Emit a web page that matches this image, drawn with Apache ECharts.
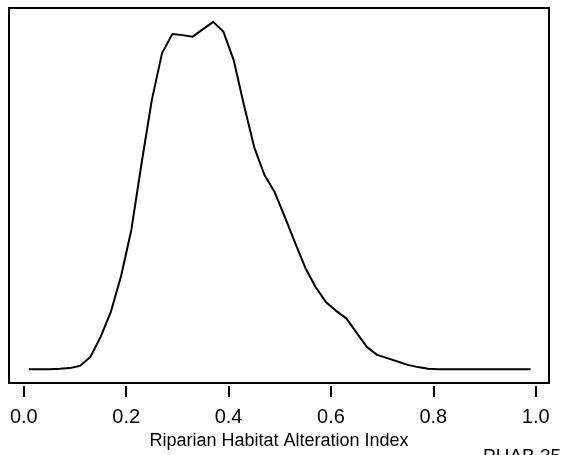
<!DOCTYPE html>
<html>
<head>
<meta charset="utf-8">
<script src="https://cdn.jsdelivr.net/npm/echarts@6/dist/echarts.min.js"></script>
<style>
html,body{margin:0;padding:0;background:#fff;}
#chart{width:562px;height:455px;}
</style>
</head>
<body>
<div id="chart"></div>
<script>
// Kernel density of Riparian Habitat Alteration Index (evaluated on grid 0.01..0.99)
const xValues = [0.01,0.03,0.05,0.07,0.09,0.11,0.13,0.15,0.17,0.19,
                 0.21,0.23,0.25,0.27,0.29,0.31,0.33,0.35,0.37,0.39,
                 0.41,0.43,0.45,0.47,0.49,0.51,0.53,0.55,0.57,0.59,
                 0.61,0.63,0.65,0.67,0.69,0.71,0.73,0.75,0.77,0.79,
                 0.81,0.83,0.85,0.87,0.89,0.91,0.93,0.95,0.97,0.99];
const density = [0,0,0,0.003,0.010,0.033,0.121,0.319,0.566,0.921,
                 1.375,2.034,2.658,3.122,3.310,3.300,3.285,3.359,3.431,3.333,
                 3.053,2.609,2.194,1.918,1.750,1.503,1.247,1.000,0.812,0.664,
                 0.576,0.501,0.361,0.220,0.141,0.109,0.075,0.042,0.020,0.003,
                 0,0,0,0,0,0,0,0,0,0];
const xTicks = [0.0,0.2,0.4,0.6,0.8,1.0];
const xTitle = 'Riparian Habitat Alteration Index';
const cornerLabel = 'PHAB 35';

const chart = echarts.init(document.getElementById('chart'), null, {renderer:'canvas'});
const FONT = '"Liberation Sans", Arial, Helvetica, sans-serif';
chart.setOption({
  animation:false,
  backgroundColor:'#fff',
  grid:{left:9, top:8, width:540, height:375, show:true, borderColor:'#000', borderWidth:2, backgroundColor:'transparent'},
  xAxis:{
    type:'value', position:'bottom', min:-0.029, max:1.026, offset:3,
    axisLine:{show:true, onZero:false, lineStyle:{color:'rgba(0,0,0,0)', width:1}},
    axisTick:{show:true, inside:false, length:11, customValues:xTicks, lineStyle:{color:'#000', width:2}},
    axisLabel:{show:true, inside:false, customValues:xTicks, formatter:v=>v.toFixed(1), fontSize:20, color:'#000', fontFamily:FONT, margin:21},
    splitLine:{show:false},
    name:xTitle, nameLocation:'middle', nameGap:46,
    nameTextStyle:{fontSize:18, color:'#000', fontFamily:FONT}
  },
  yAxis:{
    type:'value', min:-0.137, max:3.568, show:false, splitLine:{show:false}
  },
  series:[{
    type:'line', data:xValues.map((x,i)=>[x,density[i]]),
    showSymbol:false, symbol:'none',
    lineStyle:{color:'#000', width:2}
  }],
  graphic:[{
    type:'text', left:483, top:447,
    style:{text:cornerLabel, fontSize:19, fill:'#000', font:'19px "Liberation Sans", Arial, sans-serif'}
  }]
});
</script>
</body>
</html>
